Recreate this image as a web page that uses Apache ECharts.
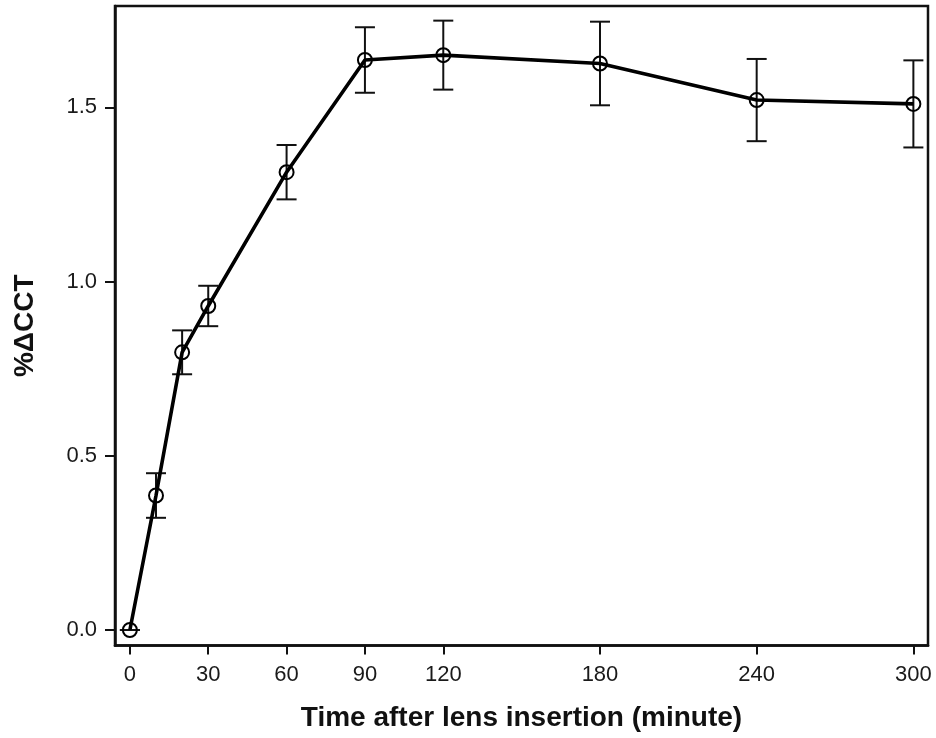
<!DOCTYPE html>
<html>
<head>
<meta charset="utf-8">
<title>%ΔCCT after lens insertion</title>
<script src="https://cdn.jsdelivr.net/npm/echarts@6/dist/echarts.min.js"></script>
<style>
  html, body { margin: 0; padding: 0; background: #fff; }
  #chart { width: 936px; height: 738px; }
</style>
</head>
<body>
<div id="chart"></div>
<script>
// Time points (minutes after lens insertion)
const times = [0, 10, 20, 30, 60, 90, 120, 180, 240, 300];
// Mean percentage change in central corneal thickness
const meanChange = [0, 0.386, 0.797, 0.930, 1.314, 1.636, 1.650, 1.626, 1.521, 1.510];
// Half-length of each error bar
const errors = [0, 0.064, 0.063, 0.058, 0.078, 0.094, 0.099, 0.120, 0.118, 0.125];
// Tick positions
const xTicks = [0, 30, 60, 90, 120, 180, 240, 300];
const yTicks = [0, 0.5, 1.0, 1.5];

const FONT = '"Liberation Sans", Arial, Helvetica, sans-serif';

const lineData = times.map((t, i) => [t, meanChange[i]]);
const errData = times.map((t, i) => [t, meanChange[i] - errors[i], meanChange[i] + errors[i]]);

const chart = echarts.init(document.getElementById('chart'), null, { renderer: 'canvas' });

chart.setOption({
  backgroundColor: '#ffffff',
  animation: false,
  grid: {
    left: 115, right: 8, top: 6, bottom: 92.5,
    show: true, borderColor: '#111', borderWidth: 2.5, backgroundColor: 'transparent'
  },
  xAxis: {
    type: 'value',
    min: -5.7, max: 305.6,
    name: 'Time after lens insertion (minute)',
    nameLocation: 'middle',
    nameGap: 59,
    nameTextStyle: { fontFamily: FONT, fontSize: 28, fontWeight: 'bold', color: '#111' },
    splitLine: { show: false },
    axisLine: { show: true, onZero: false, lineStyle: { color: '#111', width: 2.5 } },
    axisTick: { show: true, customValues: xTicks, length: 9, lineStyle: { color: '#111', width: 2 } },
    axisLabel: { customValues: xTicks, margin: 18, fontFamily: FONT, fontSize: 22, color: '#1a1a1a' }
  },
  yAxis: {
    type: 'value',
    min: -0.0445, max: 1.791,
    name: '%ΔCCT',
    nameLocation: 'middle',
    nameGap: 76,
    nameRotate: 90,
    nameTextStyle: { fontFamily: FONT, fontSize: 28, fontWeight: 'bold', color: '#111' },
    splitLine: { show: false },
    axisLine: { show: true, onZero: false, lineStyle: { color: '#111', width: 2.5 } },
    axisTick: { show: true, customValues: yTicks, length: 10, lineStyle: { color: '#111', width: 2 } },
    axisLabel: {
      customValues: yTicks, margin: 18, fontFamily: FONT, fontSize: 22, color: '#1a1a1a',
      formatter: v => v.toFixed(1)
    }
  },
  series: [
    {
      type: 'custom',
      name: 'error',
      data: errData,
      z: 2,
      renderItem: function (params, api) {
        const x = api.value(0);
        const lo = api.coord([x, api.value(1)]);
        const hi = api.coord([x, api.value(2)]);
        const cap = 10;
        const style = { stroke: '#111', lineWidth: 2 };
        return {
          type: 'group',
          children: [
            { type: 'line', shape: { x1: lo[0], y1: lo[1], x2: hi[0], y2: hi[1] }, style },
            { type: 'line', shape: { x1: hi[0] - cap, y1: hi[1], x2: hi[0] + cap, y2: hi[1] }, style },
            { type: 'line', shape: { x1: lo[0] - cap, y1: lo[1], x2: lo[0] + cap, y2: lo[1] }, style }
          ]
        };
      }
    },
    {
      type: 'line',
      name: '%ΔCCT',
      data: lineData,
      z: 3,
      symbol: 'circle',
      symbolSize: 14,
      lineStyle: { color: '#000', width: 3.6 },
      itemStyle: { color: 'rgba(0,0,0,0)', borderColor: '#000', borderWidth: 2 }
    }
  ]
});
</script>
</body>
</html>
